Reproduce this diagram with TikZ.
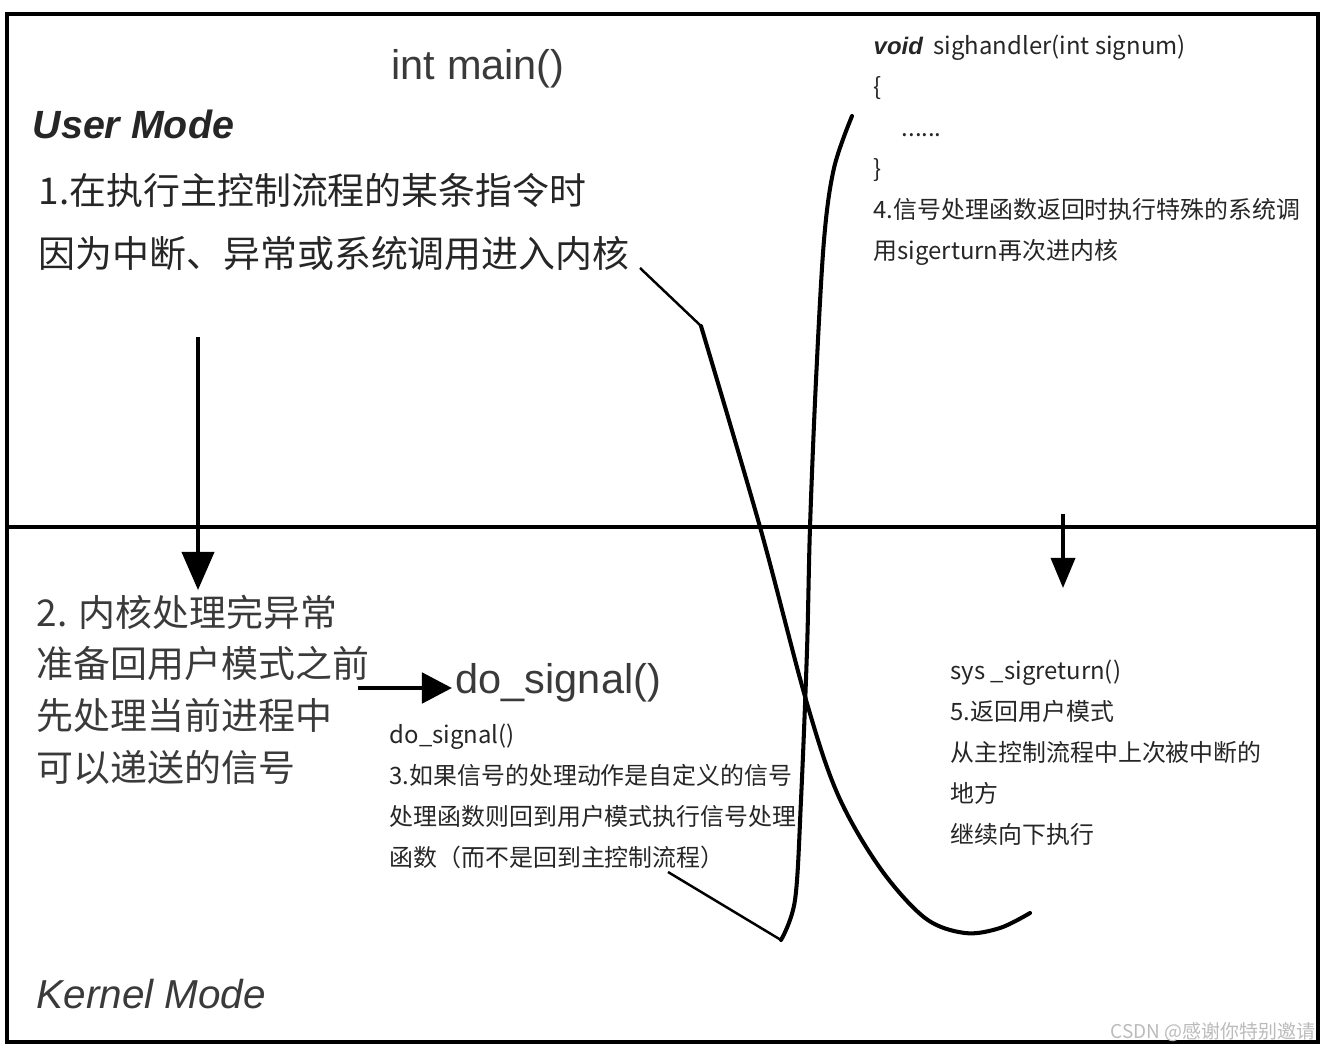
\documentclass[tikz,border=0pt]{standalone}
\usepackage{fontspec}
\setmainfont{Noto Sans CJK SC}
\newfontfamily\arialf{Liberation Sans}
\usetikzlibrary{arrows.meta}
\definecolor{inkgray}{HTML}{3A3A3A}
\definecolor{markgray}{HTML}{BBBBBB}
\tikzset{
	bigtxt/.style={anchor=north west, inner sep=0pt, align=left, text=black!85, font=\fontsize{10.5}{17.9}\selectfont},
	oldtxt/.style={anchor=north west, inner sep=0pt, align=left, text=inkgray, font=\fontsize{10.5}{14.7}\selectfont},
	smalltxt/.style={anchor=north west, inner sep=0pt, align=left, text=black!85, font=\fontsize{6.8}{11.7}\selectfont},
	codetxt/.style={anchor=base west, inner sep=0pt, text=inkgray, font=\arialf\fontsize{11.8}{14}\selectfont},
	flow/.style={line width=1.15pt, line cap=round},
	pointer/.style={line width=0.7pt},
	bigarrow/.style={line width=1.1pt, -{Triangle[width=0.32cm,length=0.38cm]}}
}
\begin{document}
\begin{tikzpicture}[x=0.01cm, y=-0.01cm]
	\useasboundingbox (0,0) rectangle (1331,1052);
	% frame and mode border
	\draw[line width=1.15pt] (7,14) rectangle (1318,1042);
	\draw[line width=1.4pt] (7,527) -- (1318,527);
	% labels of the two modes
	\node[anchor=base west, inner sep=0pt, font=\arialf\bfseries\itshape\fontsize{11.2}{13}\selectfont, text=black!85] (user) at (32,139) {User Mode};
	\node[anchor=base west, inner sep=0pt, font=\arialf\itshape\fontsize{11.5}{13}\selectfont, text=inkgray] (kernel) at (36,1008) {Kernel Mode};
	\node[codetxt] (main) at (391,80) {int main()};
	\node[codetxt] (dosig) at (455,693) {do\_signal()};
	% step texts
	\node[bigtxt] (step1) at (38,173) {1.在执行主控制流程的某条指令时\\因为中断、异常或系统调用进入内核};
	\node[oldtxt] (step2) at (36,594) {2. 内核处理完异常\\准备回用户模式之前\\先处理当前进程中\\可以递送的信号};
	\node[smalltxt] (step3) at (389,723) {do\_signal()\\3.如果信号的处理动作是自定义的信号\\处理函数则回到用户模式执行信号处理\\函数（而不是回到主控制流程）};
	\node[smalltxt] (step4) at (873,34) {{\arialf\bfseries\itshape void}\ \ sighandler(int signum)\\\{\\\hspace{0.28cm}......\\\}\\4.信号处理函数返回时执行特殊的系统调\\用sigerturn再次进内核};
	\node[smalltxt] (step5) at (950,659) {sys \_sigreturn()\\5.返回用户模式\\从主控制流程中上次被中断的\\地方\\继续向下执行};
	\node[anchor=base east, inner sep=0pt, text=markgray, font=\fontsize{5.4}{6}\selectfont] (mark) at (1316,1038) {CSDN @感谢你特别邀请};
	% end points of the pointers and arrows
	\coordinate (in1) at (640,268);
	\coordinate (enter) at (701,326);
	\coordinate (in3) at (668,872);
	\coordinate (back) at (781,940);
	\coordinate (a1) at (198,337);
	\coordinate (b1) at (198,590);
	\coordinate (a2) at (1063,514);
	\coordinate (b2) at (1063,588);
	\coordinate (a3) at (358,688);
	\coordinate (b3) at (452,688);
	\draw[pointer] (in1) -- (enter);
	\draw[pointer] (in3) -- (back);
	\draw[bigarrow] (a1) -- (b1);
	\draw[line width=1pt, -{Triangle[width=0.24cm,length=0.3cm]}] (a2) -- (b2);
	\draw[line width=1.4pt, -{Triangle[width=0.3cm,length=0.3cm]}] (a3) -- (b3);
	% control flow curves
	\draw[flow] plot[smooth, tension=0.55] coordinates {(enter) (760,527) (806,700) (838,795) (880,868) (925,918) (965,933) (1000,928) (1030,913)};
	\draw[flow] plot[smooth, tension=0.55] coordinates {(back) (795,900) (801,800) (807,650) (810,527) (816,380) (824,240) (834,168) (852,116)};
\end{tikzpicture}
\end{document}
